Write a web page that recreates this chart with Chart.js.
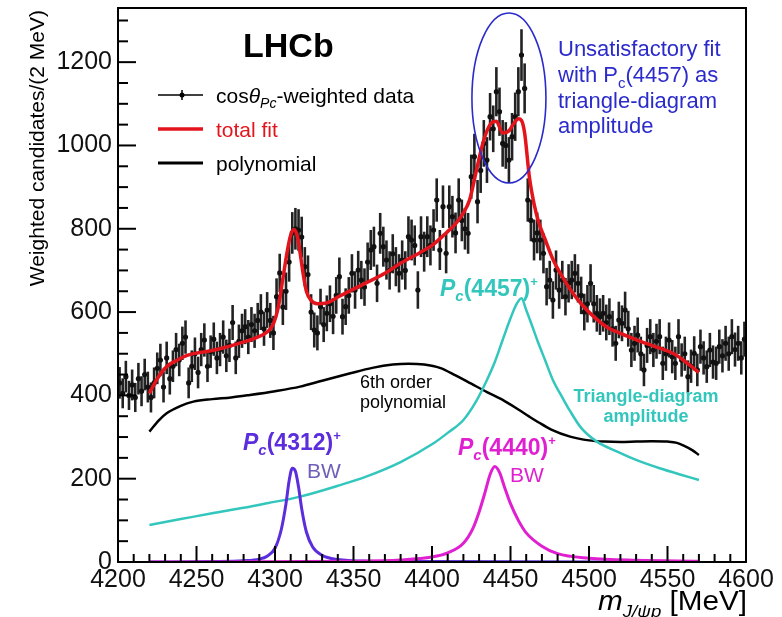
<!DOCTYPE html>
<html>
<head>
<meta charset="utf-8">
<script src="https://cdn.jsdelivr.net/npm/chart.js@4.4.1/dist/chart.umd.min.js"></script>
<style>
  html, body { margin: 0; padding: 0; background: #fff; }
  #wrap { width: 782px; height: 617px; }
</style>
</head>
<body>
<div id="wrap"><canvas id="chart" width="782" height="617"></canvas></div>
<script>
// bins: 2 MeV wide, first bin starts at 4200
const binLow = 4200;
const binWidth = 2;

// cos(theta)-weighted candidates per bin
const weightedCounts = [
  430, 405, 445, 400, 425, 395, 440, 410, 450, 420,
  395, 430, 465, 485, 420, 490, 440, 470, 510, 485,
  525, 540, 430, 470, 500, 455, 510, 533, 470, 505,
  535, 490, 510, 540, 495, 520, 575, 490, 530, 555,
  565, 540, 570, 555, 580, 600, 560, 605, 580, 550,
  637, 694, 612, 650, 720, 790, 800, 797, 780, 709,
  690, 600, 557, 550, 613, 570, 597, 620, 590, 640,
  685, 589, 613, 640, 693, 653, 701, 677, 660, 720,
  749, 757, 669, 789, 757, 725, 700, 740, 709, 693,
  725, 700, 781, 773, 760, 653, 781, 745, 781, 760,
  797, 869, 749, 853, 741, 853, 829, 790, 869, 820,
  800, 789, 925, 973, 865, 940, 1005, 965, 1069, 1040,
  1129, 1081, 1005, 1000, 965, 1021, 1069, 1129, 1217, 1137,
  869, 820, 773, 790, 773, 741, 661, 677, 629, 701,
  653, 677, 637, 669, 677, 693, 669, 640, 600, 620,
  669, 620, 597, 589, 597, 575, 589, 560, 525, 581,
  573, 605, 560, 509, 525, 545, 500, 461, 520, 541,
  509, 530, 541, 477, 500, 533, 493, 477, 541, 485,
  500, 445, 470, 501, 461, 517, 490, 469, 509, 480,
  477, 517, 495, 525, 500, 541, 510, 525, 490, 535
];
const countErrors = [
  38, 36, 38, 35, 37, 35, 38, 36, 38, 37,
  36, 37, 38, 39, 37, 39, 38, 38, 40, 39,
  40, 40, 37, 38, 39, 38, 40, 40, 38, 39,
  40, 39, 40, 40, 39, 40, 42, 39, 40, 41,
  42, 41, 42, 41, 42, 43, 41, 43, 42, 41,
  44, 46, 43, 45, 47, 50, 50, 50, 49, 47,
  46, 43, 42, 42, 43, 42, 43, 44, 43, 44,
  46, 43, 44, 44, 46, 45, 46, 46, 45, 47,
  48, 48, 45, 49, 48, 47, 46, 47, 47, 46,
  47, 46, 49, 49, 48, 45, 49, 48, 49, 48,
  50, 52, 48, 51, 48, 51, 50, 49, 52, 50,
  50, 49, 53, 55, 52, 54, 56, 55, 57, 56,
  59, 58, 56, 56, 55, 57, 58, 59, 62, 60,
  52, 50, 49, 49, 49, 48, 45, 46, 45, 47,
  45, 46, 45, 46, 46, 46, 46, 45, 44, 45,
  46, 45, 44, 44, 44, 43, 44, 43, 42, 44,
  43, 44, 43, 41, 42, 42, 41, 39, 42, 42,
  41, 42, 42, 40, 41, 42, 40, 40, 42, 40,
  41, 39, 40, 41, 39, 41, 40, 39, 41, 40,
  40, 41, 40, 42, 41, 42, 41, 42, 40, 42
];

// total fit (red)
const totalFitX = [4220, 4225, 4231, 4238, 4244, 4252, 4259, 4268, 4278, 4287, 4295, 4299, 4302, 4305, 4308, 4310, 4312, 4314, 4316, 4318, 4320, 4323, 4327, 4332, 4341, 4350, 4358, 4370, 4380, 4392, 4400, 4409, 4415, 4420, 4424, 4428, 4432, 4435, 4438, 4441, 4445, 4449, 4452, 4455, 4457, 4459, 4462, 4465, 4468, 4472, 4477, 4483, 4488, 4495, 4503, 4511, 4520, 4528, 4537, 4546, 4554, 4560, 4565, 4570];
const totalFitY = [405, 440, 469, 485, 496, 503, 507, 515, 526, 537, 552, 572, 610, 680, 750, 785, 798, 785, 742, 690, 650, 628, 620, 621, 638, 655, 670, 693, 717, 742, 760, 790, 812, 838, 870, 935, 1000, 1035, 1055, 1058, 1030, 1035, 1052, 1064, 1060, 1030, 925, 860, 815, 775, 727, 685, 655, 620, 589, 565, 549, 537, 524, 512, 500, 485, 470, 455];

// 6th order polynomial (black)
const polyX = [4220, 4226, 4231, 4240, 4248, 4260, 4272, 4284, 4300, 4316, 4330, 4348, 4362, 4375, 4385, 4395, 4405, 4415, 4425, 4435, 4445, 4455, 4462, 4468, 4476, 4488, 4500, 4510, 4520, 4530, 4540, 4550, 4556, 4561, 4566, 4570];
const polyY = [313, 340, 357, 375, 385, 391, 395, 401, 410, 421, 435, 453, 466, 474, 476, 474, 466, 448, 428, 408, 389, 366, 349, 335, 318, 301, 292, 289, 288, 289, 290, 289, 286, 278, 268, 257];

// Pc(4457)+ triangle-diagram amplitude (cyan)
const triangleX = [4220, 4240, 4260, 4280, 4295, 4316, 4340, 4358, 4380, 4401, 4410, 4420, 4428, 4435, 4440, 4445, 4450, 4454, 4457, 4460, 4463, 4467, 4472, 4477, 4483, 4488, 4495, 4505, 4518, 4530, 4545, 4558, 4570];
const triangleY = [89, 103, 117, 130, 141, 157, 183, 205, 240, 285, 310, 341, 385, 437, 480, 533, 585, 620, 633, 605, 575, 533, 485, 437, 395, 362, 322, 289, 265, 245, 225, 210, 197];

// Pc(4312)+ Breit-Wigner (violet)
const bw4312X = [4220, 4260, 4280, 4290, 4295, 4300, 4304, 4307, 4309, 4311, 4313, 4315, 4317, 4320, 4324, 4330, 4340, 4360, 4400, 4570];
const bw4312Y = [0, 1, 3, 7, 14, 33, 78, 140, 195, 225, 218, 180, 128, 72, 36, 16, 6, 2, 1, 0];

// Pc(4440)+ Breit-Wigner (magenta)
const bw4440X = [4220, 4350, 4380, 4400, 4410, 4420, 4426, 4430, 4434, 4437, 4440, 4443, 4446, 4450, 4455, 4460, 4470, 4480, 4500, 4530, 4570];
const bw4440Y = [0, 2, 5, 12, 22, 45, 80, 120, 170, 210, 229, 215, 182, 140, 100, 70, 38, 20, 9, 4, 2];

const xLabels = [4200, 4250, 4300, 4350, 4400, 4450, 4500, 4550, 4600];
const yLabels = [0, 200, 400, 600, 800, 1000, 1200];

const C_RED = '#e3141c', C_CYAN = '#33c6bd', C_VIOLET = '#5b2ddc', C_MAGENTA = '#df1fd0', C_BLUE = '#2b2bcc';
const FONT = '"Liberation Sans", Arial, Helvetica, sans-serif';

const pts = weightedCounts.map((v, i) => ({ x: binLow + binWidth * (i + 0.5), y: v }));
const pairs = (xs, ys) => xs.map((x, i) => ({ x: x, y: ys[i] }));

// draw a run of text pieces: [text, font, dy, color]
function rich(ctx, x, y, parts, sx) {
  ctx.save();
  ctx.translate(x, y);
  ctx.scale(sx || 1, 1);
  ctx.textBaseline = 'alphabetic';
  ctx.textAlign = 'left';
  let cx = 0;
  parts.forEach(p => {
    ctx.font = p[1];
    ctx.fillStyle = p[3];
    ctx.fillText(p[0], cx, p[2]);
    cx += ctx.measureText(p[0]).width;
  });
  ctx.restore();
}

const errorBars = {
  id: 'errorBars',
  beforeDatasetsDraw(chart) {
    const ctx = chart.ctx, xs = chart.scales.x, ys = chart.scales.y;
    ctx.save();
    ctx.strokeStyle = '#222';
    ctx.lineWidth = 2.6;
    pts.forEach((p, i) => {
      const px = xs.getPixelForValue(p.x);
      ctx.beginPath();
      ctx.moveTo(px, ys.getPixelForValue(p.y - countErrors[i]));
      ctx.lineTo(px, ys.getPixelForValue(p.y + countErrors[i]));
      ctx.stroke();
    });
    ctx.restore();
  }
};

const decorations = {
  id: 'decorations',
  afterDatasetsDraw(chart) {
    const ctx = chart.ctx, a = chart.chartArea, xs = chart.scales.x, ys = chart.scales.y;
    ctx.save();
    // frame
    ctx.strokeStyle = '#000';
    ctx.lineWidth = 2;
    ctx.strokeRect(a.left, a.top, a.right - a.left, a.bottom - a.top);
    // inward ticks
    for (let v = 4200; v <= 4600; v += 10) {
      const px = xs.getPixelForValue(v);
      const len = v % 50 === 0 ? 16 : 8;
      ctx.beginPath(); ctx.moveTo(px, a.bottom); ctx.lineTo(px, a.bottom - len); ctx.stroke();
    }
    for (let v = 0; v <= 1300; v += 50) {
      const py = ys.getPixelForValue(v);
      const len = v % 200 === 0 ? 18 : 10;
      ctx.beginPath(); ctx.moveTo(a.left, py); ctx.lineTo(a.left + len, py); ctx.stroke();
    }

    // LHCb
    rich(ctx, 243, 57, [['LHCb', 'bold 34px ' + FONT, 0, '#000']]);

    // legend
    ctx.lineWidth = 1.5; ctx.strokeStyle = '#000';
    ctx.beginPath(); ctx.moveTo(158, 95); ctx.lineTo(203, 95); ctx.stroke();
    ctx.beginPath(); ctx.moveTo(182, 90); ctx.lineTo(182, 100); ctx.stroke();
    ctx.fillStyle = '#000';
    ctx.beginPath(); ctx.arc(182, 95, 2.5, 0, Math.PI * 2); ctx.fill();
    ctx.lineWidth = 3.5; ctx.strokeStyle = C_RED;
    ctx.beginPath(); ctx.moveTo(158, 129); ctx.lineTo(203, 129); ctx.stroke();
    ctx.lineWidth = 3; ctx.strokeStyle = '#000';
    ctx.beginPath(); ctx.moveTo(158, 163); ctx.lineTo(203, 163); ctx.stroke();
    const lf = '21px ' + FONT;
    rich(ctx, 216, 103, [['cos', lf, 0, '#000'], ['\u03B8', 'italic ' + lf, 0, '#000'],
      ['Pc', 'italic 14px ' + FONT, 5, '#000'], ['-weighted data', lf, 0, '#000']]);
    rich(ctx, 216, 137, [['total fit', lf, 0, C_RED]]);
    rich(ctx, 216, 171, [['polynomial', lf, 0, '#000']]);

    // ellipse around the double peak
    ctx.strokeStyle = C_BLUE; ctx.lineWidth = 1.6;
    ctx.beginPath();
    ctx.ellipse(xs.getPixelForValue(4449), ys.getPixelForValue(1114), 37, 85, 0, 0, Math.PI * 2);
    ctx.stroke();
    const bf = '22px ' + FONT;
    rich(ctx, 558, 56, [['Unsatisfactory fit', bf, 0, C_BLUE]]);
    rich(ctx, 558, 82, [['with P', bf, 0, C_BLUE], ['c', '15px ' + FONT, 6, C_BLUE], ['(4457) as', bf, 0, C_BLUE]]);
    rich(ctx, 558, 108, [['triangle-diagram', bf, 0, C_BLUE]]);
    rich(ctx, 558, 133, [['amplitude', bf, 0, C_BLUE]]);

    // component labels
    const pLabel = (x, y, mass, col) => rich(ctx, x, y, [
      ['P', 'bold italic 23px ' + FONT, 0, col], ['c', 'bold italic 15px ' + FONT, 5, col],
      ['(' + mass + ')', 'bold 23px ' + FONT, 0, col], ['+', 'bold 13px ' + FONT, -10, col]]);
    pLabel(440, 296, '4457', C_CYAN);
    pLabel(243, 450, '4312', C_VIOLET);
    pLabel(458, 455, '4440', C_MAGENTA);
    rich(ctx, 307, 478, [['BW', '21px ' + FONT, 0, '#6f5fb8']]);
    rich(ctx, 510, 482, [['BW', '21px ' + FONT, 0, C_MAGENTA]]);

    rich(ctx, 360, 388, [['6th order', '18px ' + FONT, 0, '#000']]);
    rich(ctx, 360, 408, [['polynomial', '18px ' + FONT, 0, '#000']]);
    ctx.font = 'bold 18px ' + FONT; ctx.fillStyle = C_CYAN; ctx.textAlign = 'center';
    ctx.fillText('Triangle-diagram', 646, 402);
    ctx.fillText('amplitude', 646, 422);

    // axis titles
    ctx.save();
    ctx.translate(44, 10);
    ctx.rotate(-Math.PI / 2);
    ctx.font = '21px ' + FONT; ctx.fillStyle = '#000'; ctx.textAlign = 'right'; ctx.textBaseline = 'alphabetic';
    ctx.fillText('Weighted candidates/(2 MeV)', 0, 0);
    ctx.restore();
    rich(ctx, 598, 610, [['m', 'italic 27px ' + FONT, 0, '#000'], ['J/\u03C8p', 'italic 17px ' + FONT, 7, '#000'],
      [' [MeV]', '27px ' + FONT, 0, '#000']], 1.1);
    ctx.restore();
  }
};

const lineSet = (label, data, color, width) => ({
  label: label, data: data, showLine: true, borderColor: color, borderWidth: width,
  pointRadius: 0, cubicInterpolationMode: 'monotone', order: 1
});

new Chart(document.getElementById('chart'), {
  type: 'scatter',
  data: {
    datasets: [
      lineSet('total fit', pairs(totalFitX, totalFitY), C_RED, 3.5),
      lineSet('Pc(4440)+ BW', pairs(bw4440X, bw4440Y), C_MAGENTA, 3),
      lineSet('Pc(4312)+ BW', pairs(bw4312X, bw4312Y), C_VIOLET, 3),
      lineSet('triangle', pairs(triangleX, triangleY), C_CYAN, 2.5),
      lineSet('polynomial', pairs(polyX, polyY), '#000', 2.5),
      { label: 'data', data: pts, pointRadius: 2.6, pointBackgroundColor: '#111',
        pointBorderWidth: 0, showLine: false, order: 10 }
    ]
  },
  options: {
    responsive: false,
    animation: false,
    devicePixelRatio: 1,
    layout: { padding: { left: 0, right: 36, top: 8, bottom: 0 } },
    plugins: { legend: { display: false }, tooltip: { enabled: false } },
    scales: {
      x: {
        type: 'linear', min: 4200, max: 4600,
        afterBuildTicks: s => { s.ticks = xLabels.map(v => ({ value: v })); },
        afterFit: s => { s.height = 55; s.paddingLeft = 0; },
        grid: { display: false, drawTicks: false }, border: { display: false },
        ticks: { font: { family: FONT, size: 25 }, color: '#111', padding: 3, maxRotation: 0,
          callback: v => String(v) }
      },
      y: {
        type: 'linear', min: 0, max: 1330,
        afterBuildTicks: s => { s.ticks = yLabels.map(v => ({ value: v })); },
        afterFit: s => { s.width = 118; s.paddingTop = 0; s.paddingBottom = 0; },
        grid: { display: false, drawTicks: false }, border: { display: false },
        ticks: { font: { family: FONT, size: 25 }, color: '#111', padding: 6,
          callback: v => String(v) }
      }
    }
  },
  plugins: [errorBars, decorations]
});
</script>
</body>
</html>
